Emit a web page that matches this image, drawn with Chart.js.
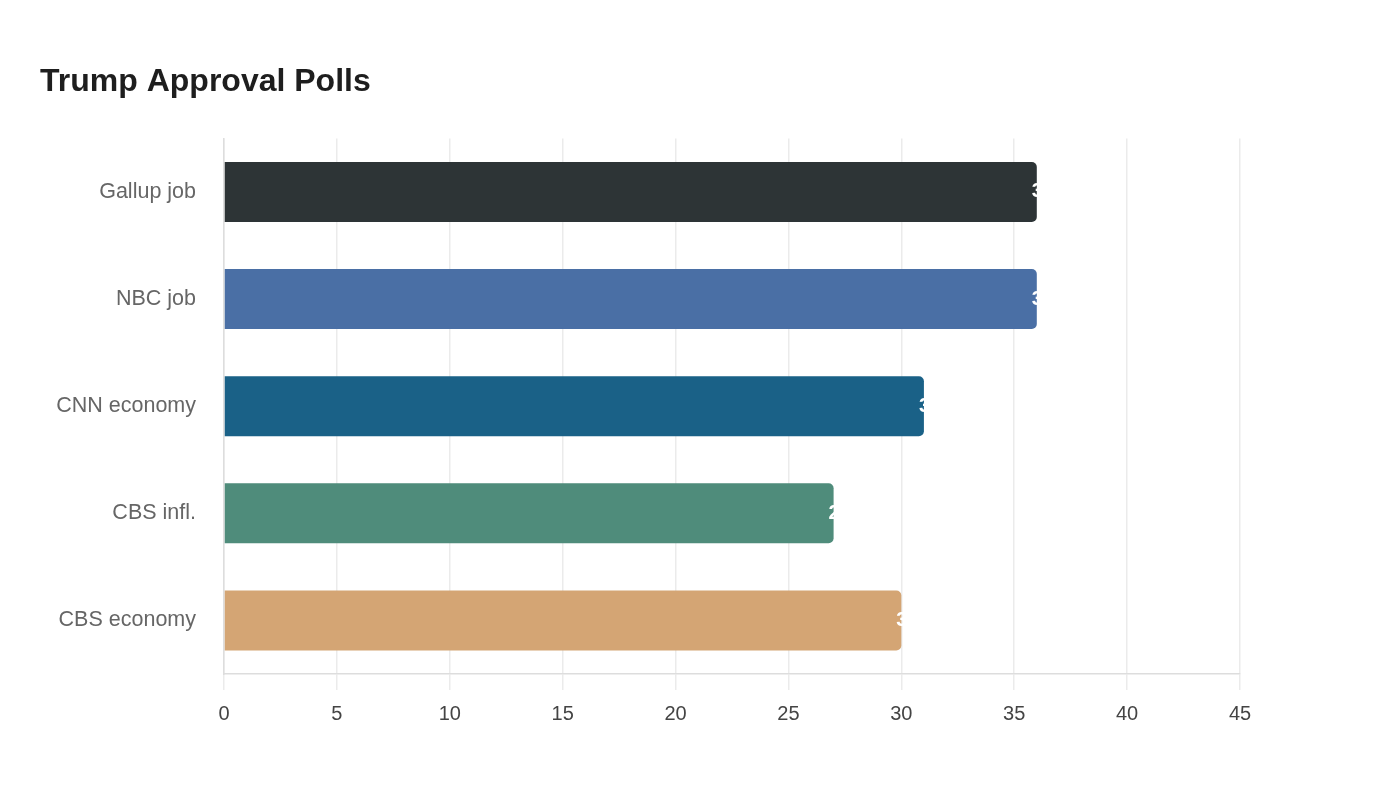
<!DOCTYPE html>
<html>
<head>
<meta charset="utf-8">
<script src="https://cdn.jsdelivr.net/npm/chart.js@4"></script>
<style>
  html, body { margin: 0; padding: 0; background: #fff; }
  #wrap { width: 1400px; height: 800px; }
</style>
</head>
<body>
<div id="wrap"><canvas id="grafico"></canvas></div>
<script>
const categorias = ["Gallup job", "NBC job", "CNN economy", "CBS infl.", "CBS economy"];
const valores = [36, 36, 31, 27, 30];
const cores = ["#2d3436", "#4a6fa5", "#1a6187", "#4f8c7b", "#d4a574"];
const ticksX = [0, 5, 10, 15, 20, 25, 30, 35, 40, 45];

// rotulo branco na ponta da barra (a maior parte cai fora, sobre o fundo branco)
const rotulosPlugin = {
  id: "rotulos",
  afterDatasetsDraw(chart) {
    const ctx = chart.ctx;
    const meta = chart.getDatasetMeta(0);
    ctx.save();
    ctx.fillStyle = "#ffffff";
    ctx.font = "bold 20px 'Liberation Sans', Arial, sans-serif";
    ctx.textAlign = "left";
    ctx.textBaseline = "middle";
    meta.data.forEach((bar, i) => {
      ctx.fillText(String(valores[i]), bar.x - 5, bar.y);
    });
    ctx.restore();
  }
};

new Chart(document.getElementById("grafico"), {
  type: "bar",
  data: {
    labels: categorias,
    datasets: [{
      data: valores,
      backgroundColor: cores,
      borderRadius: 5,
      borderSkipped: "start",
      categoryPercentage: 1,
      barPercentage: 0.56
    }]
  },
  options: {
    indexAxis: "y",
    responsive: true,
    maintainAspectRatio: false,
    animation: false,
    layout: { padding: { left: 40, right: 160, top: 63, bottom: 62 } },
    plugins: {
      legend: { display: false },
      tooltip: { enabled: false },
      title: {
        display: true,
        text: "Trump Approval Polls",
        align: "start",
        color: "#1e1e1e",
        font: { family: "'Liberation Sans', Arial, sans-serif", size: 32, weight: "bold" },
        padding: { top: 0, bottom: 37 }
      }
    },
    scales: {
      x: {
        min: 0,
        max: 45,
        afterBuildTicks(axis) { axis.ticks = ticksX.map(v => ({ value: v })); },
        grid: { color: "#ebebeb", lineWidth: 1.5, tickLength: 16 },
        border: { color: "#dddddd", width: 1.5 },
        ticks: {
          color: "#444444",
          padding: 12,
          font: { family: "'Liberation Sans', Arial, sans-serif", size: 20 }
        }
      },
      y: {
        afterFit(axis) { axis.width = 184; },
        grid: { display: false },
        border: { color: "#dddddd", width: 1.5 },
        ticks: {
          color: "#666666",
          padding: 20,
          font: { family: "'Liberation Sans', Arial, sans-serif", size: 21.5 }
        }
      }
    }
  },
  plugins: [rotulosPlugin]
});
</script>
</body>
</html>
